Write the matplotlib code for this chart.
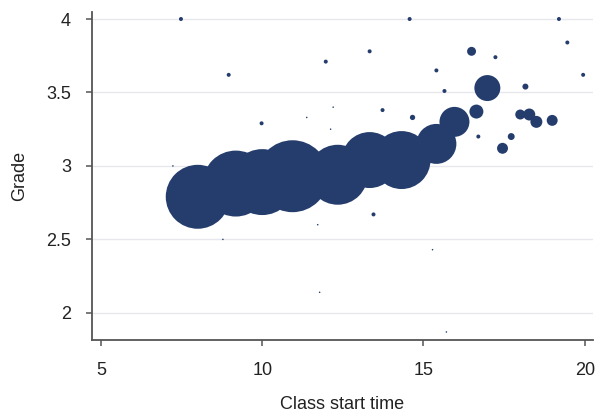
import numpy as np
from matplotlib import pyplot as plt

plt.rcParams['font.family'] = ['Liberation Sans', 'DejaVu Sans']

# class start time (hours), mean grade, class size (bubble area)
start_time = [8.0, 9.18, 10.0, 10.94, 12.34, 13.33, 14.32, 15.4, 15.96,
              16.98, 16.64, 18.0, 18.28, 18.5, 18.99, 17.45, 17.72, 16.49,
              18.16, 14.66,
              7.48, 8.96, 9.98, 14.57, 19.2, 19.46, 19.95, 11.97, 13.33,
              17.23, 15.4, 15.65, 13.73, 16.7, 13.45,
              7.23, 11.38, 12.2, 12.12, 11.72, 15.28, 11.78, 15.71, 8.78]
grade = [2.79, 2.88, 2.89, 2.93, 2.94, 3.04, 3.04, 3.15, 3.30,
         3.53, 3.37, 3.35, 3.35, 3.30, 3.31, 3.12, 3.20, 3.78,
         3.54, 3.33,
         4.0, 3.62, 3.29, 4.0, 4.0, 3.84, 3.62, 3.71, 3.78,
         3.74, 3.65, 3.51, 3.38, 3.20, 2.67,
         3.0, 3.33, 3.40, 3.25, 2.60, 2.43, 2.14, 1.87, 2.5]
students = [1024, 1089, 1089, 1296, 900, 784, 841, 400, 225,
            169, 49, 25, 36, 36, 30, 30, 12, 20,
            9, 7,
            4, 4, 4, 4, 4, 4, 4, 4, 4,
            4, 4, 4, 4, 4, 4,
            0.6, 0.6, 0.6, 0.6, 0.6, 0.6, 0.6, 0.6, 0.6]

x_ticks = [5, 10, 15, 20]
y_ticks = [2, 2.5, 3, 3.5, 4]
y_labels = ['2', '2.5', '3', '3.5', '4']

fig = plt.figure(figsize=(5.97, 4.12), dpi=100)
ax = fig.add_axes([0.154, 0.175, 0.839, 0.796])

navy = '#253d6c'
s = np.array(students) * 2.07
ax.scatter(start_time, grade, s=s, color=navy, edgecolors='none', zorder=3)

ax.set_xlim(4.72, 20.25)
ax.set_ylim(1.816, 4.048)
ax.set_xticks(x_ticks)
ax.set_yticks(y_ticks)
ax.set_yticklabels(y_labels)

ax.grid(axis='y', color='#e6e8ee', linewidth=1.0, zorder=0)
ax.set_axisbelow(True)

for side in ['top', 'right']:
	ax.spines[side].set_visible(False)
for side in ['left', 'bottom']:
	ax.spines[side].set_color('#555555')
	ax.spines[side].set_linewidth(1.3)

ax.tick_params(axis='both', direction='out', length=4, width=1.1, color='#555555',
               labelsize=13, labelcolor='#222222')
ax.tick_params(axis='y', pad=11)
ax.tick_params(axis='x', pad=12)

ax.set_xlabel('Class start time', fontsize=13, color='#222222', labelpad=12)
ax.set_ylabel('Grade', fontsize=13, color='#222222', labelpad=13)

fig.savefig('out.png', dpi=100)
